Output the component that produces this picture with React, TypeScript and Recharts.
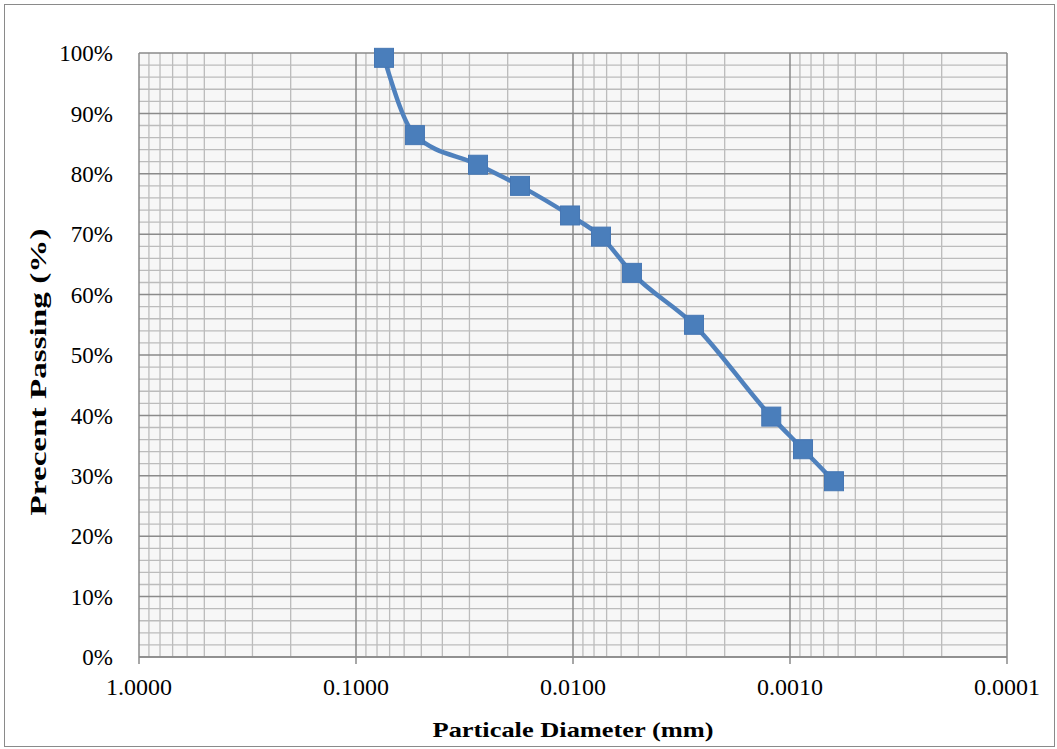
import React from "react";
import { LineChart, Line, XAxis, YAxis, CartesianGrid, ReferenceLine, Label } from "recharts";

// grain size distribution (hydrometer)
const DIAMETERS = [0.0743, 0.0535, 0.0274, 0.01755, 0.01032, 0.00743, 0.00535, 0.00277, 0.00122, 0.000871, 0.000627];
const PASSING = [99.2, 86.4, 81.5, 78.0, 73.1, 69.6, 63.6, 55.0, 39.8, 34.4, 29.1];

const X_TICKS = [1, 0.1, 0.01, 0.001, 0.0001];
const Y_TICKS = [0, 10, 20, 30, 40, 50, 60, 70, 80, 90, 100];
const Y_MINOR = [2, 4, 6, 8];
const X_MINOR = [2, 3, 4, 5, 6, 7, 8, 9];

const MAJOR = "#8a8a8a";
const MINOR = "#bcbcbc";
const BLUE = "#4F81BD";
const SERIF = "'Liberation Serif', 'Times New Roman', Tinos, 'Nimbus Roman', Times, serif";

const data = DIAMETERS.map((d, i) => ({ d, p: PASSING[i] }));

const minorX = X_TICKS.slice(1).flatMap((dec) => X_MINOR.map((k) => Number((dec * k).toPrecision(3))));
const minorY = Y_TICKS.slice(0, -1).flatMap((v) => Y_MINOR.map((k) => v + k));

const SquareDot = (props: any) => {
  const { cx, cy, index } = props;
  if (cx == null || cy == null) return null;
  return <rect key={`dot-${index}`} x={cx - 9.5} y={cy - 9.5} width={19} height={19} fill="#4A7EBB" stroke="#4677B4" strokeWidth={1} />;
};

const XTitle = (props: any) => {
  const { viewBox } = props;
  const cx = viewBox.x + viewBox.width / 2;
  return (
    <text x={cx} y={737} textAnchor="middle" style={{ fontFamily: SERIF }} fontWeight="bold" fontSize={22} fill="#000" textLength={281} lengthAdjust="spacingAndGlyphs">
      Particale Diameter (mm)
    </text>
  );
};

const YTitle = () => (
  <text x={46} y={372} transform="rotate(-90 46 372)" textAnchor="middle" style={{ fontFamily: SERIF }} fontWeight="bold" fontSize={23} fill="#000" textLength={287} lengthAdjust="spacingAndGlyphs">
    Precent Passing (%)
  </text>
);

export default function App() {
  return (
    <div style={{ position: "absolute", left: 0, top: 0, width: 1057, height: 749, background: "#fff", fontFamily: SERIF }}>
      <div style={{ position: "absolute", left: 4, top: 4, width: 1049, height: 741, border: `1.5px solid ${MAJOR}` }} />
      <LineChart width={1057} height={749} data={data} margin={{ top: 53, right: 50, bottom: 0, left: 0 }} style={{ fontFamily: SERIF }}>
        <CartesianGrid horizontal={false} vertical={false} fill="#f7f7f7" />
        <XAxis
          dataKey="d"
          type="number"
          scale="log"
          domain={[0.0001, 1]}
          allowDataOverflow
          reversed
          ticks={X_TICKS}
          tickFormatter={(v: number) => v.toFixed(4)}
          height={92}
          axisLine={{ stroke: MAJOR, strokeWidth: 1.5 }}
          tickLine={{ stroke: MAJOR, strokeWidth: 1.5 }}
          tickSize={7}
          tickMargin={14}
          tick={{ fill: "#000", fontSize: 24, style: { fontFamily: SERIF } }}
          interval={0}
        >
          <Label content={<XTitle />} />
        </XAxis>
        <YAxis
          type="number"
          domain={[0, 100]}
          ticks={Y_TICKS}
          tickFormatter={(v: number) => `${v}%`}
          width={139}
          axisLine={false}
          tickLine={false}
          tickSize={0}
          tickMargin={26}
          tick={{ fill: "#000", fontSize: 23, style: { fontFamily: SERIF } }}
          interval={0}
        >
          <Label content={<YTitle />} />
        </YAxis>
        {minorY.map((v) => (
          <ReferenceLine key={`hy-${v}`} y={v} stroke={MINOR} strokeWidth={1.3} />
        ))}
        {minorX.map((v) => (
          <ReferenceLine key={`vx-${v}`} x={v} stroke={MINOR} strokeWidth={1.3} />
        ))}
        {Y_TICKS.map((v) => (
          <ReferenceLine key={`HY-${v}`} y={v} stroke={MAJOR} strokeWidth={1.5} />
        ))}
        {X_TICKS.map((v) => (
          <ReferenceLine key={`VX-${v}`} x={v} stroke={MAJOR} strokeWidth={1.5} />
        ))}
        <Line
          dataKey="p"
          type="monotone"
          stroke={BLUE}
          strokeWidth={4.5}
          dot={<SquareDot />}
          activeDot={false}
          isAnimationActive={false}
        />
      </LineChart>
    </div>
  );
}
